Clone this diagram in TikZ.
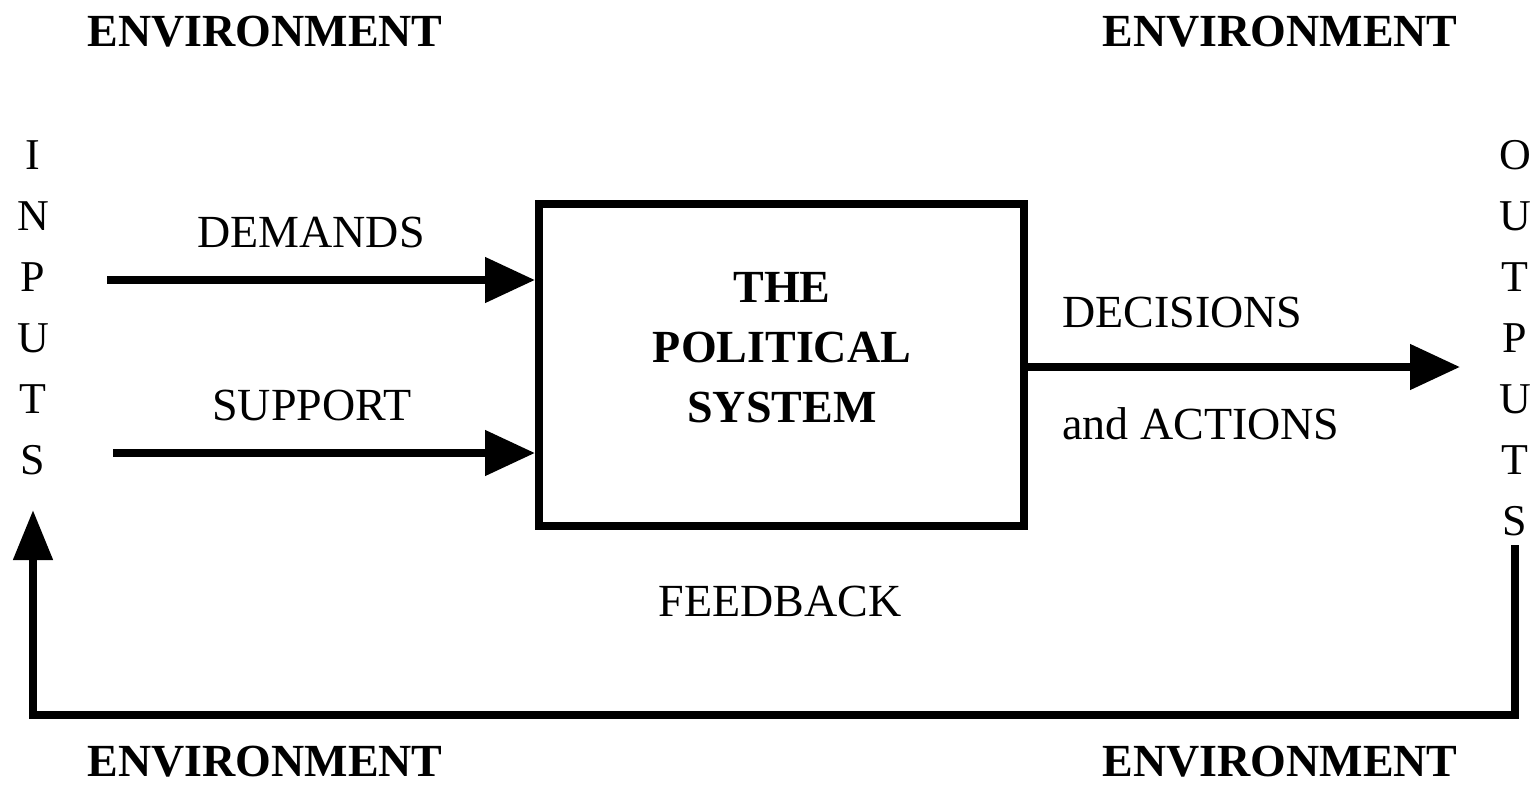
\documentclass[tikz,border=0pt]{standalone}
\usepackage{fontspec}
\setmainfont{Liberation Serif}
\usetikzlibrary{arrows.meta}
\begin{document}
\begin{tikzpicture}[x=1pt,y=-1pt,
  envlabel/.style={font=\fontsize{46}{55}\selectfont\bfseries, inner sep=0pt},
  plainlabel/.style={font=\fontsize{46}{55}\selectfont, inner sep=0pt},
  letter/.style={font=\fontsize{44}{52}\selectfont, inner sep=0pt},
  sysbox/.style={draw, line width=8pt, minimum width=485pt, minimum height=322pt, inner sep=0pt},
  flow/.style={line width=8pt, -{Triangle[length=50pt,width=44pt]}},
  fb/.style={line width=8pt, line join=miter, -{Triangle[length=50pt,width=38pt]}}
]
\useasboundingbox (0,0) rectangle (1540,785);
% environment labels
\node[envlabel] (envTL) at (265,32) {ENVIRONMENT};
\node[envlabel] (envTR) at (1280,32) {ENVIRONMENT};
\node[envlabel] (envBL) at (265,762) {ENVIRONMENT};
\node[envlabel] (envBR) at (1280,762) {ENVIRONMENT};
% inputs letters
\foreach \l [count=\i] in {I,N,P,U,T,S}{
  \node[letter] (in\i) at (33,{155+61*(\i-1)}) {\l};
}
% outputs letters
\foreach \l [count=\i] in {O,U,T,P,U,T,S}{
  \node[letter] (out\i) at (1515,{155+61*(\i-1)}) {\l};
}
% system box
\node[sysbox] (box) at (781.5,365) {};
\node[font=\fontsize{46}{60}\selectfont\bfseries, align=center, inner sep=0pt] (sys) at (782,348) {THE\\POLITICAL\\SYSTEM};
% input arrows
\coordinate (demS) at (107,280);
\coordinate (supS) at (113,453);
\draw[flow] (demS) -- (demS -| box.west);
\draw[flow] (supS) -- (supS -| box.west);
\node[plainlabel] (dem) at (311,232) {DEMANDS};
\node[plainlabel] (sup) at (312,405) {SUPPORT};
% output arrow
\coordinate (outE) at (1460,367);
\draw[flow] (outE -| box.east) -- (outE);
\node[plainlabel, anchor=west] (dec) at (1062,312) {DECISIONS};
\node[plainlabel, anchor=west] (act) at (1062,424) {and ACTIONS};
% feedback
\node[plainlabel] (feed) at (780,601) {FEEDBACK};
\coordinate (fbS) at (1515,545);
\coordinate (fbE) at (33,510);
\draw[fb] (fbS) -- (fbS |- 0,715) -- (fbE |- 0,715) -- (fbE);
\end{tikzpicture}
\end{document}
